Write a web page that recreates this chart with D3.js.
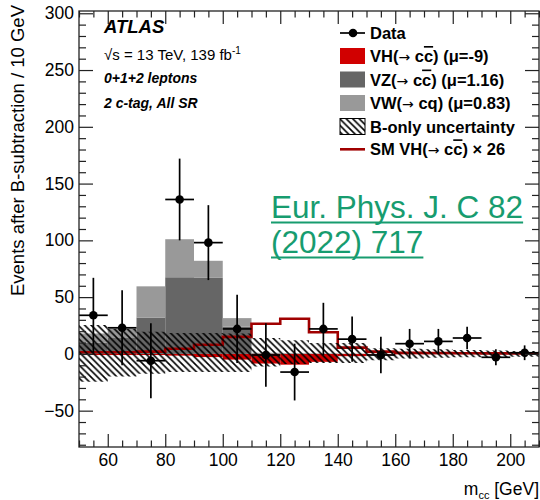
<!DOCTYPE html>
<html>
<head>
<meta charset="utf-8">
<script src="https://cdn.jsdelivr.net/npm/d3@7"></script>
<style>
  html, body { margin: 0; padding: 0; background: #fff; }
  svg { display: block; }
  text { font-family: "Liberation Sans", Arial, Helvetica, sans-serif; }
</style>
</head>
<body>
<svg id="chart" width="540" height="500"></svg>
<script>
// ---------------- data ----------------
const binLow     = [50, 60, 70, 80, 90, 100, 110, 120, 130, 140, 150, 160, 170, 180, 190, 200];
const binHigh    = [60, 70, 80, 90, 100, 110, 120, 130, 140, 150, 160, 170, 180, 190, 200, 210];
const binCenter  = [55, 65, 75, 85, 95, 105, 115, 125, 135, 145, 155, 165, 175, 185, 195, 205];
const dataVal    = [34, 23, -6, 136, 98, 22, -1, -16, 22, 13, -1, 9, 11, 14, -3, 1];
const dataErr    = [33, 33, 33, 36, 33, 30, 28, 25, 23, 20, 16, 13, 11, 10, 7, 6.5];
const vzVal      = [10, 14, 32, 67.5, 67, 24, 0.5, 0.3, 0.2, 0.1, 0, 0, 0, 0, 0, 0];
const vwVal      = [8, 8.6, 27.5, 33.5, 15, 7.5, 0.5, 0.3, 0.2, 0.1, 0, 0, 0, 0, 0, 0];
const vhVal      = [-1, -1, -1, -1.5, -2.8, -5, -8.5, -9.5, -7, -2, -0.7, -0.4, -0.3, -0.2, -0.2, -0.1];
const smVal      = [1.5, 1.5, 2, 4.5, 8, 15, 26.5, 31, 19, 5.5, 2, 1, 0.8, 0.6, 0.5, 0.4];
const bandUp     = [25.5, 22, 19.5, 18.5, 18.5, 18, 14, 12, 9.5, 9.5, 5, 4.5, 4, 3.5, 3, 2.5];
const bandDn     = [-24.5, -20, -17.5, -16, -16, -16, -11, -9, -8, -8, -5.5, -4, -3.5, -3, -3, -2.5];
const xMajorTicks = [60, 80, 100, 120, 140, 160, 180, 200];
const xMinorTicks = [50, 55, 65, 70, 75, 85, 90, 95, 105, 110, 115, 125, 130, 135, 145, 150, 155, 165, 170, 175, 185, 190, 195, 205, 210];
const yMajorTicks = [-50, 0, 50, 100, 150, 200, 250, 300];
const yMinorTicks = [-80, -70, -60, -40, -30, -20, -10, 10, 20, 30, 40, 60, 70, 80, 90, 110, 120, 130, 140, 160, 170, 180, 190, 210, 220, 230, 240, 260, 270, 280, 290];

// ---------------- layout ----------------
const L = 79, R = 539, T = 11, B = 447;
const x = d3.scaleLinear().domain([50, 210]).range([L, R]);
const y = d3.scaleLinear().domain([-82, 302]).range([B, T]);

const svg = d3.select("#chart");
const defs = svg.append("defs");
const pat = defs.append("pattern").attr("id", "hatch")
  .attr("patternUnits", "userSpaceOnUse").attr("width", 6.5).attr("height", 6.5);
pat.append("path")
  .attr("d", "M-1,-1 L7.5,7.5 M-1,5.5 L1,7.5 M5.5,-1 L7.5,1")
  .attr("stroke", "#000").attr("stroke-width", 1.6);

const clip = defs.append("clipPath").attr("id", "plotclip");
clip.append("rect").attr("x", L).attr("y", T).attr("width", R - L).attr("height", B - T);

const bins = binLow.map((lo, i) => ({
  lo, hi: binHigh[i], c: binCenter[i], d: dataVal[i], e: dataErr[i],
  vz: vzVal[i], vw: vwVal[i], vh: vhVal[i], sm: smVal[i], up: bandUp[i], dn: bandDn[i]
}));

const plot = svg.append("g").attr("clip-path", "url(#plotclip)");

// VH (negative) fill
plot.selectAll("rect.vh").data(bins).join("rect").attr("class", "vh")
  .attr("x", d => x(d.lo)).attr("width", d => x(d.hi) - x(d.lo))
  .attr("y", d => y(0)).attr("height", d => y(d.vh) - y(0))
  .attr("fill", "#d10000");
// VZ
plot.selectAll("rect.vz").data(bins).join("rect").attr("class", "vz")
  .attr("x", d => x(d.lo)).attr("width", d => x(d.hi) - x(d.lo))
  .attr("y", d => y(d.vz)).attr("height", d => y(0) - y(d.vz))
  .attr("fill", "#666666");
// VW on top of VZ
plot.selectAll("rect.vw").data(bins).join("rect").attr("class", "vw")
  .attr("x", d => x(d.lo)).attr("width", d => x(d.hi) - x(d.lo))
  .attr("y", d => y(d.vz + d.vw)).attr("height", d => y(d.vz) - y(d.vz + d.vw))
  .attr("fill", "#999999");

// step points
const stepPts = [];
bins.forEach(d => { stepPts.push({ x: d.lo, b: d }); stepPts.push({ x: d.hi, b: d }); });

// SM VH x 26 line
plot.append("path")
  .attr("d", d3.line().x(p => x(p.x)).y(p => y(p.b.sm))(stepPts))
  .attr("fill", "none").attr("stroke", "#a00000").attr("stroke-width", 2.6);

// B-only uncertainty hatch band
plot.append("path")
  .attr("d", d3.area().x(p => x(p.x)).y0(p => y(p.b.dn)).y1(p => y(p.b.up))(stepPts))
  .attr("fill", "url(#hatch)");

// data
const dg = svg.append("g");
dg.selectAll("line.ex").data(bins).join("line")
  .attr("x1", d => Math.max(x(d.lo), L)).attr("x2", d => Math.min(x(d.hi), R))
  .attr("y1", d => y(d.d)).attr("y2", d => y(d.d))
  .attr("stroke", "#000").attr("stroke-width", 1.7);
dg.selectAll("line.ey").data(bins).join("line")
  .attr("x1", d => x(d.c)).attr("x2", d => x(d.c))
  .attr("y1", d => y(d.d + d.e)).attr("y2", d => y(d.d - d.e))
  .attr("stroke", "#000").attr("stroke-width", 1.7);
dg.selectAll("circle").data(bins).join("circle")
  .attr("cx", d => x(d.c)).attr("cy", d => y(d.d)).attr("r", 4.3).attr("fill", "#000");

// ---------------- axes ----------------
const fs = 17.5;
function styleAxis(g) {
  g.select(".domain").remove();
  g.selectAll("line").attr("stroke", "#222").attr("stroke-width", 1.2);
  g.selectAll("text").attr("font-size", fs).attr("fill", "#000")
    .attr("font-family", "'Liberation Sans', Arial, sans-serif");
}
svg.append("g").attr("transform", `translate(0,${B})`)
  .call(d3.axisBottom(x).tickValues(xMajorTicks).tickSize(-13).tickPadding(6.5)).call(styleAxis);
svg.append("g").attr("transform", `translate(0,${B})`)
  .call(d3.axisBottom(x).tickValues(xMinorTicks).tickSize(-6.5).tickFormat("")).call(styleAxis);
svg.append("g").attr("transform", `translate(0,${T})`)
  .call(d3.axisTop(x).tickValues(xMajorTicks).tickSize(-13).tickFormat("")).call(styleAxis);
svg.append("g").attr("transform", `translate(0,${T})`)
  .call(d3.axisTop(x).tickValues(xMinorTicks).tickSize(-6.5).tickFormat("")).call(styleAxis);

svg.append("g").attr("transform", `translate(${L},0)`)
  .call(d3.axisLeft(y).tickValues(yMajorTicks).tickSize(-14).tickPadding(5)).call(styleAxis);
svg.append("g").attr("transform", `translate(${L},0)`)
  .call(d3.axisLeft(y).tickValues(yMinorTicks).tickSize(-7).tickFormat("")).call(styleAxis);
svg.append("g").attr("transform", `translate(${R},0)`)
  .call(d3.axisRight(y).tickValues(yMajorTicks).tickSize(-14).tickFormat("")).call(styleAxis);
svg.append("g").attr("transform", `translate(${R},0)`)
  .call(d3.axisRight(y).tickValues(yMinorTicks).tickSize(-7).tickFormat("")).call(styleAxis);

// frame
svg.append("rect").attr("x", L).attr("y", T).attr("width", R - L).attr("height", B - T)
  .attr("fill", "none").attr("stroke", "#222").attr("stroke-width", 1.3);

// axis titles
svg.append("text")
  .attr("transform", `translate(24,5) rotate(-90)`)
  .attr("text-anchor", "end").attr("font-size", 18.5)
  .text("Events after B-subtraction / 10 GeV");

const xt = svg.append("text").attr("x", R).attr("y", 495).attr("text-anchor", "end").attr("font-size", 17.5);
xt.append("tspan").text("m");
xt.append("tspan").attr("font-size", 11).attr("dy", 4).text("cc");
xt.append("tspan").attr("dy", -4).text(" [GeV]");

// ---------------- ATLAS label ----------------
svg.append("text").attr("x", 104).attr("y", 33).attr("font-size", 18.5)
  .attr("font-weight", "bold").attr("font-style", "italic").text("ATLAS");
const en = svg.append("text").attr("x", 104).attr("y", 60).attr("font-size", 15);
en.append("tspan").text("\u221As = 13 TeV, 139 fb");
en.append("tspan").attr("font-size", 10).attr("dy", -6).text("-1");
svg.append("text").attr("x", 104).attr("y", 83).attr("font-size", 14)
  .attr("font-weight", "bold").attr("font-style", "italic").text("0+1+2 leptons");
svg.append("text").attr("x", 104).attr("y", 108).attr("font-size", 14)
  .attr("font-weight", "bold").attr("font-style", "italic").text("2 c-tag, All SR");

// ---------------- legend ----------------
const lg = svg.append("g");
const lx0 = 340, lx1 = 365, tx = 370, lfs = 16.5;
const rowY = [33, 56, 79.5, 103, 126.5, 149.3];
function ltext(yc, parts) {
  const t = lg.append("text").attr("x", tx).attr("y", yc + 6).attr("font-size", lfs).attr("font-weight", "bold");
  parts.forEach(p => {
    const s = t.append("tspan").text(p.t);
    if (p.o) s.attr("text-decoration", "overline");
    if (p.sym) s.attr("font-family", "'DejaVu Sans', sans-serif").attr("font-weight", "normal").attr("font-size", 14);
  });
}
// Data
lg.append("line").attr("x1", lx0).attr("x2", lx1).attr("y1", rowY[0]).attr("y2", rowY[0]).attr("stroke", "#000").attr("stroke-width", 1.7);
lg.append("circle").attr("cx", 353).attr("cy", rowY[0]).attr("r", 4.3).attr("fill", "#000");
ltext(rowY[0], [{ t: "Data" }]);
// VH
lg.append("rect").attr("x", lx0).attr("y", rowY[1] - 8).attr("width", 25).attr("height", 16).attr("fill", "#d10000");
ltext(rowY[1], [{ t: "VH(" }, { t: "\u2192", sym: true }, { t: " c" }, { t: "c", o: true }, { t: ") (\u03BC=-9)" }]);
// VZ
lg.append("rect").attr("x", lx0).attr("y", rowY[2] - 8).attr("width", 25).attr("height", 16).attr("fill", "#666666");
ltext(rowY[2], [{ t: "VZ(" }, { t: "\u2192", sym: true }, { t: " c" }, { t: "c", o: true }, { t: ") (\u03BC=1.16)" }]);
// VW
lg.append("rect").attr("x", lx0).attr("y", rowY[3] - 8).attr("width", 25).attr("height", 16).attr("fill", "#999999");
ltext(rowY[3], [{ t: "VW(" }, { t: "\u2192", sym: true }, { t: " cq) (\u03BC=0.83)" }]);
// hatch
lg.append("rect").attr("x", lx0).attr("y", rowY[4] - 8).attr("width", 25).attr("height", 16)
  .attr("fill", "url(#hatch)").attr("stroke", "#000").attr("stroke-width", 1);
ltext(rowY[4], [{ t: "B-only uncertainty" }]);
// SM line
lg.append("line").attr("x1", lx0).attr("x2", lx1).attr("y1", rowY[5]).attr("y2", rowY[5]).attr("stroke", "#a00000").attr("stroke-width", 2.6);
ltext(rowY[5], [{ t: "SM VH(" }, { t: "\u2192", sym: true }, { t: " c" }, { t: "c", o: true }, { t: ") \u00D7 26" }]);

// ---------------- reference link text ----------------
const linkColor = "#179c6f";
const refLines = ["Eur. Phys. J. C 82", "(2022) 717"];
const refY = [218, 253];
refLines.forEach((s, i) => {
  const t = svg.append("text").attr("x", 271).attr("y", refY[i]).attr("font-size", 31.5)
    .attr("fill", linkColor).text(s);
  const w = t.node().getComputedTextLength();
  svg.append("line").attr("x1", 271).attr("x2", 271 + w)
    .attr("y1", refY[i] + 4.5).attr("y2", refY[i] + 4.5)
    .attr("stroke", linkColor).attr("stroke-width", 2);
});
</script>
</body>
</html>
